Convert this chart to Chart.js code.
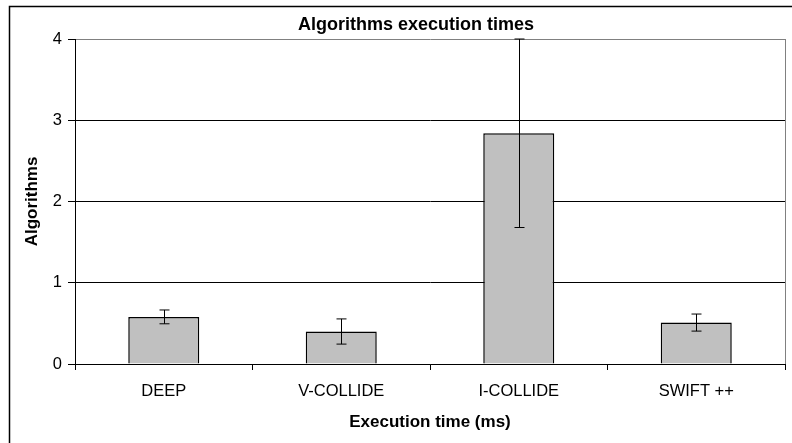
<!DOCTYPE html>
<html>
<head>
<meta charset="utf-8">
<script src="https://cdn.jsdelivr.net/npm/chart.js@4/dist/chart.umd.min.js"></script>
<style>
  html, body { margin: 0; padding: 0; background: #fff; }
  #wrap { width: 792px; height: 443px; }
</style>
</head>
<body>
<div id="wrap"><canvas id="myChart" width="792" height="443"></canvas></div>
<script>
// mean times and their error (+/-)
const algorithms = ["DEEP", "V-COLLIDE", "I-COLLIDE", "SWIFT ++"];
const execTimes = [0.58, 0.40, 2.84, 0.51];
const execErrors = [0.085, 0.155, 1.16, 0.105];
const yTicks = [0, 1, 2, 3, 4];

const FONT = "'Liberation Sans', Arial, sans-serif";

// error bars drawn on top of each bar
const errorBars = {
    id: "errorBars",
    afterDatasetsDraw(chart) {
        const ctx = chart.ctx;
        const y = chart.scales.y;
        const meta = chart.getDatasetMeta(0);
        ctx.save();
        ctx.strokeStyle = "#000";
        ctx.lineWidth = 1;
        meta.data.forEach((bar, i) => {
            const x = Math.round(bar.x) + 0.5;
            const top = y.getPixelForValue(execTimes[i] + execErrors[i]);
            const bot = y.getPixelForValue(execTimes[i] - execErrors[i]);
            ctx.beginPath();
            ctx.moveTo(x, top);
            ctx.lineTo(x, bot);
            ctx.moveTo(x - 5, top);
            ctx.lineTo(x + 5, top);
            ctx.moveTo(x - 5, bot);
            ctx.lineTo(x + 5, bot);
            ctx.stroke();
        });
        ctx.restore();
    }
};

// white background, outer frame, gray right border, chart title
const decor = {
    id: "decor",
    beforeDraw(chart) {
        const ctx = chart.ctx;
        ctx.save();
        ctx.fillStyle = "#fff";
        ctx.fillRect(0, 0, chart.width, chart.height);
        ctx.strokeStyle = "#000";
        ctx.lineWidth = 1.5;
        ctx.strokeRect(9.5, 6.5, 900, 600);
        ctx.restore();
    },
    afterDraw(chart) {
        const ctx = chart.ctx;
        const a = chart.chartArea;
        ctx.save();
        ctx.strokeStyle = "#808080";
        ctx.lineWidth = 1;
        ctx.beginPath();
        ctx.moveTo(Math.round(a.right) + 0.5, a.top);
        ctx.lineTo(Math.round(a.right) + 0.5, a.bottom);
        ctx.stroke();
        ctx.fillStyle = "#000";
        ctx.font = "bold 18px " + FONT;
        ctx.textAlign = "center";
        ctx.textBaseline = "alphabetic";
        ctx.fillText("Algorithms execution times", 416, 30);
        ctx.restore();
    }
};

const ctx = document.getElementById("myChart").getContext("2d");
const myChart = new Chart(ctx, {
    type: "bar",
    data: {
        labels: algorithms,
        datasets: [
            {
                data: execTimes,
                backgroundColor: "#c0c0c0",
                borderColor: "#000",
                borderWidth: 1.5,
                barPercentage: 0.4,
                categoryPercentage: 1.0,
            },
        ],
    },
    options: {
        responsive: false,
        animation: false,
        layout: { padding: { top: 39, right: 7, left: 0, bottom: 0 } },
        plugins: {
            legend: { display: false },
            tooltip: { enabled: false },
        },
        scales: {
            x: {
                afterFit: (s) => { s.height = 79; },
                grid: {
                    offset: true,
                    drawOnChartArea: false,
                    tickLength: 6,
                    color: "#000",
                },
                border: { color: "#000", width: 1 },
                ticks: {
                    color: "#000",
                    padding: 12,
                    font: { family: FONT, size: 16.5 },
                },
                title: {
                    display: true,
                    text: "Execution time (ms)",
                    color: "#000",
                    font: { family: FONT, size: 17, weight: "bold" },
                    padding: { top: 0, bottom: 10 },
                },
            },
            y: {
                min: 0,
                max: 4,
                afterFit: (s) => { s.width = 75; },
                afterBuildTicks: (s) => { s.ticks = yTicks.map((v) => ({ value: v })); },
                grid: {
                    color: (c) => (c.tick && c.tick.value === 4 ? "#808080" : "#000"),
                    tickColor: "#000",
                    tickLength: 7,
                },
                border: { color: "#000", width: 1 },
                ticks: {
                    color: "#000",
                    padding: 6,
                    font: { family: FONT, size: 16.5 },
                },
                title: {
                    display: true,
                    text: "Algorithms",
                    color: "#000",
                    font: { family: FONT, size: 17, weight: "bold" },
                    padding: { top: 22, bottom: 0 },
                },
            },
        },
    },
    plugins: [decor, errorBars],
});
</script>
</body>
</html>
